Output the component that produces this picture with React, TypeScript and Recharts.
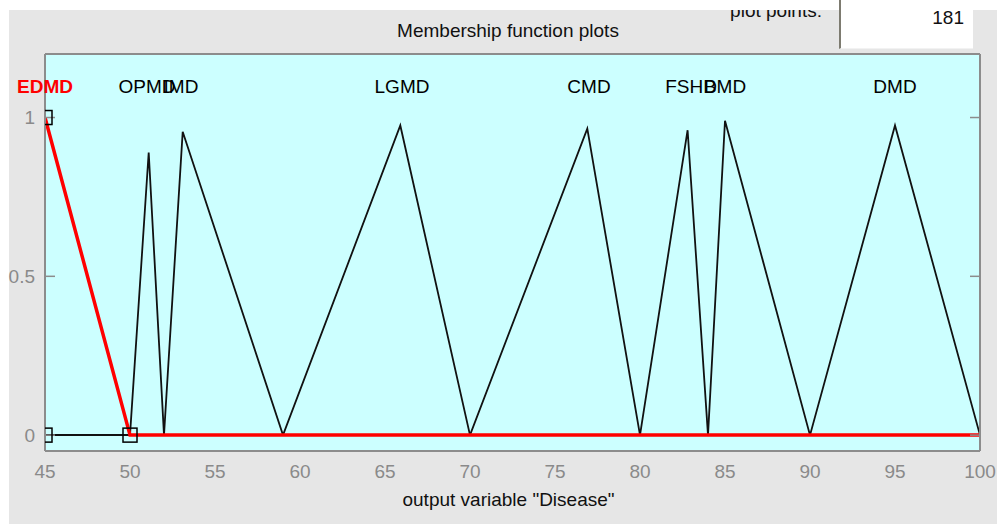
import React from 'react';
import { ComposedChart, Line, Scatter, XAxis, YAxis, CartesianGrid, ReferenceDot } from 'recharts';

const xTicks = [45, 50, 55, 60, 65, 70, 75, 80, 85, 90, 95, 100];
const yTicks = [0, 0.5, 1];

const edmdPoints = [{ x: 45, y: 1 }, { x: 50, y: 0 }, { x: 100, y: 0 }];
const opmdPoints = [{ x: 45, y: 0 }, { x: 50, y: 0 }, { x: 51.1, y: 0.89 }, { x: 52, y: 0 }, { x: 100, y: 0 }];
const imdPoints = [{ x: 45, y: 0 }, { x: 52, y: 0 }, { x: 53.1, y: 0.955 }, { x: 59, y: 0 }, { x: 100, y: 0 }];
const lgmdPoints = [{ x: 45, y: 0 }, { x: 59, y: 0 }, { x: 65.9, y: 0.975 }, { x: 70, y: 0 }, { x: 100, y: 0 }];
const cmdPoints = [{ x: 45, y: 0 }, { x: 70, y: 0 }, { x: 76.9, y: 0.965 }, { x: 80, y: 0 }, { x: 100, y: 0 }];
const fshdPoints = [{ x: 45, y: 0 }, { x: 80, y: 0 }, { x: 82.8, y: 0.96 }, { x: 84, y: 0 }, { x: 100, y: 0 }];
const bmdPoints = [{ x: 45, y: 0 }, { x: 84, y: 0 }, { x: 85, y: 0.99 }, { x: 90, y: 0 }, { x: 100, y: 0 }];
const dmdPoints = [{ x: 45, y: 0 }, { x: 90, y: 0 }, { x: 95, y: 0.975 }, { x: 100, y: 0 }];

const blackSeries = [opmdPoints, imdPoints, lgmdPoints, cmdPoints, fshdPoints, bmdPoints, dmdPoints];

const mfNames = ['EDMD', 'OPMD', 'IMD', 'LGMD', 'CMD', 'FSHD', 'BMD', 'DMD'];
const mfLabelX = [45, 51, 53, 66, 77, 83, 85, 95];
const labelLevel = 1.1;
const vertexMarkers = [{ x: 45, y: 1 }, { x: 45, y: 0 }, { x: 50, y: 0 }];

const FONT = '"Liberation Sans", Arial, sans-serif';
const GREY_TXT = '#8a8a8a';
const AXIS_GREY = '#8c8c8c';

const squareShape = (p: any) => (
  <rect x={p.cx - 7} y={p.cy - 7} width={14} height={14} fill="none" stroke="#000" strokeWidth={1.5} />
);
const noTick = () => <g />;

export default function App() {
  return (
    <div style={{ position: 'absolute', left: 0, top: 0, width: 997, height: 524, background: '#fff', fontFamily: FONT, overflow: 'hidden' }}>
      <div style={{ position: 'absolute', left: 9, top: 10, width: 988, height: 514, background: '#e6e6e6', overflow: 'hidden' }}>
        <div style={{ position: 'absolute', right: 175, top: -9, fontSize: 19, lineHeight: '19px', color: '#111', whiteSpace: 'nowrap' }}>plot points:</div>
      </div>
      <div style={{ position: 'absolute', left: 839, top: 0, width: 132, height: 48, background: '#fff', borderLeft: '2px solid #7d7b70', borderBottom: '1px solid #f2f2f2' }}>
        <div style={{ position: 'absolute', right: 9, top: 8, fontSize: 19, lineHeight: '19px', color: '#111' }}>181</div>
      </div>
      <div style={{ position: 'absolute', left: 508, top: 21, transform: 'translateX(-50%)', fontSize: 19, lineHeight: '19px', color: '#111', whiteSpace: 'nowrap' }}>
        Membership function plots
      </div>
      <div style={{ position: 'absolute', left: 0, top: 0 }}>
        <ComposedChart width={997} height={524} margin={{ top: 54, right: 17, bottom: 0, left: 0 }}>
          <CartesianGrid xAxisId="x" yAxisId="y" horizontal={false} vertical={false} fill="#ccffff" fillOpacity={1} />
          <XAxis
            xAxisId="x"
            type="number"
            dataKey="x"
            domain={[45, 100]}
            ticks={xTicks}
            interval={0}
            allowDataOverflow
            height={73}
            tickLine={false}
            axisLine={false}
            tickSize={6}
            tickMargin={8}
            tick={{ fill: GREY_TXT, fontSize: 19, fontFamily: FONT }}
            label={{ value: 'output variable "Disease"', position: 'insideBottom', offset: 18, dx: -4, fill: '#111', fontSize: 19, fontFamily: FONT }}
          />
          <XAxis
            xAxisId="bm"
            orientation="bottom"
            mirror
            type="number"
            domain={[45, 100]}
            ticks={xTicks}
            interval={0}
            allowDataOverflow
            height={2}
            tick={noTick}
            tickSize={10}
            tickLine={{ stroke: AXIS_GREY, strokeWidth: 1.5 }}
            axisLine={{ stroke: AXIS_GREY, strokeWidth: 2 }}
          />
          <XAxis
            xAxisId="tm"
            orientation="top"
            mirror
            type="number"
            domain={[45, 100]}
            ticks={xTicks}
            interval={0}
            allowDataOverflow
            height={2}
            tick={noTick}
            tickSize={10}
            tickLine={{ stroke: AXIS_GREY, strokeWidth: 1.5 }}
            axisLine={{ stroke: AXIS_GREY, strokeWidth: 2 }}
          />
          <YAxis
            yAxisId="y"
            type="number"
            dataKey="y"
            domain={[-0.05, 1.2]}
            ticks={yTicks}
            interval={0}
            allowDataOverflow
            width={45}
            tickLine={false}
            axisLine={false}
            tickSize={6}
            tickMargin={4}
            tick={{ fill: GREY_TXT, fontSize: 19, fontFamily: FONT }}
          />
          <YAxis
            yAxisId="lm"
            orientation="left"
            mirror
            type="number"
            domain={[-0.05, 1.2]}
            ticks={yTicks}
            interval={0}
            allowDataOverflow
            width={2}
            tick={noTick}
            tickSize={10}
            tickLine={{ stroke: AXIS_GREY, strokeWidth: 1.5 }}
            axisLine={{ stroke: AXIS_GREY, strokeWidth: 2 }}
          />
          <YAxis
            yAxisId="rm"
            orientation="right"
            mirror
            type="number"
            domain={[-0.05, 1.2]}
            ticks={yTicks}
            interval={0}
            allowDataOverflow
            width={2}
            tick={noTick}
            tickSize={10}
            tickLine={{ stroke: AXIS_GREY, strokeWidth: 1.5 }}
            axisLine={{ stroke: AXIS_GREY, strokeWidth: 2 }}
          />
          {blackSeries.map((pts, i) => (
            <Line
              key={'mf' + i}
              xAxisId="x"
              yAxisId="y"
              data={pts}
              dataKey="y"
              type="linear"
              stroke="#111"
              strokeWidth={1.8}
              dot={false}
              activeDot={false}
              isAnimationActive={false}
            />
          ))}
          <Line
            xAxisId="x"
            yAxisId="y"
            data={edmdPoints}
            dataKey="y"
            type="linear"
            stroke="#ff0000"
            strokeWidth={3.5}
            dot={false}
            activeDot={false}
            isAnimationActive={false}
          />
          <Scatter
            xAxisId="x"
            yAxisId="y"
            data={vertexMarkers}
            dataKey="y"
            shape={squareShape}
            isAnimationActive={false}
          />
          {mfNames.map((name, i) => (
            <ReferenceDot
              key={name}
              xAxisId="x"
              yAxisId="y"
              x={mfLabelX[i]}
              y={labelLevel}
              r={0}
              fill="none"
              stroke="none"
              ifOverflow="visible"
              label={{
                value: name,
                position: 'center',
                fill: i === 0 ? '#ff0000' : '#000',
                fontSize: 19,
                fontWeight: i === 0 ? 'bold' : 'normal',
                fontFamily: FONT,
              }}
            />
          ))}
        </ComposedChart>
      </div>
    </div>
  );
}
